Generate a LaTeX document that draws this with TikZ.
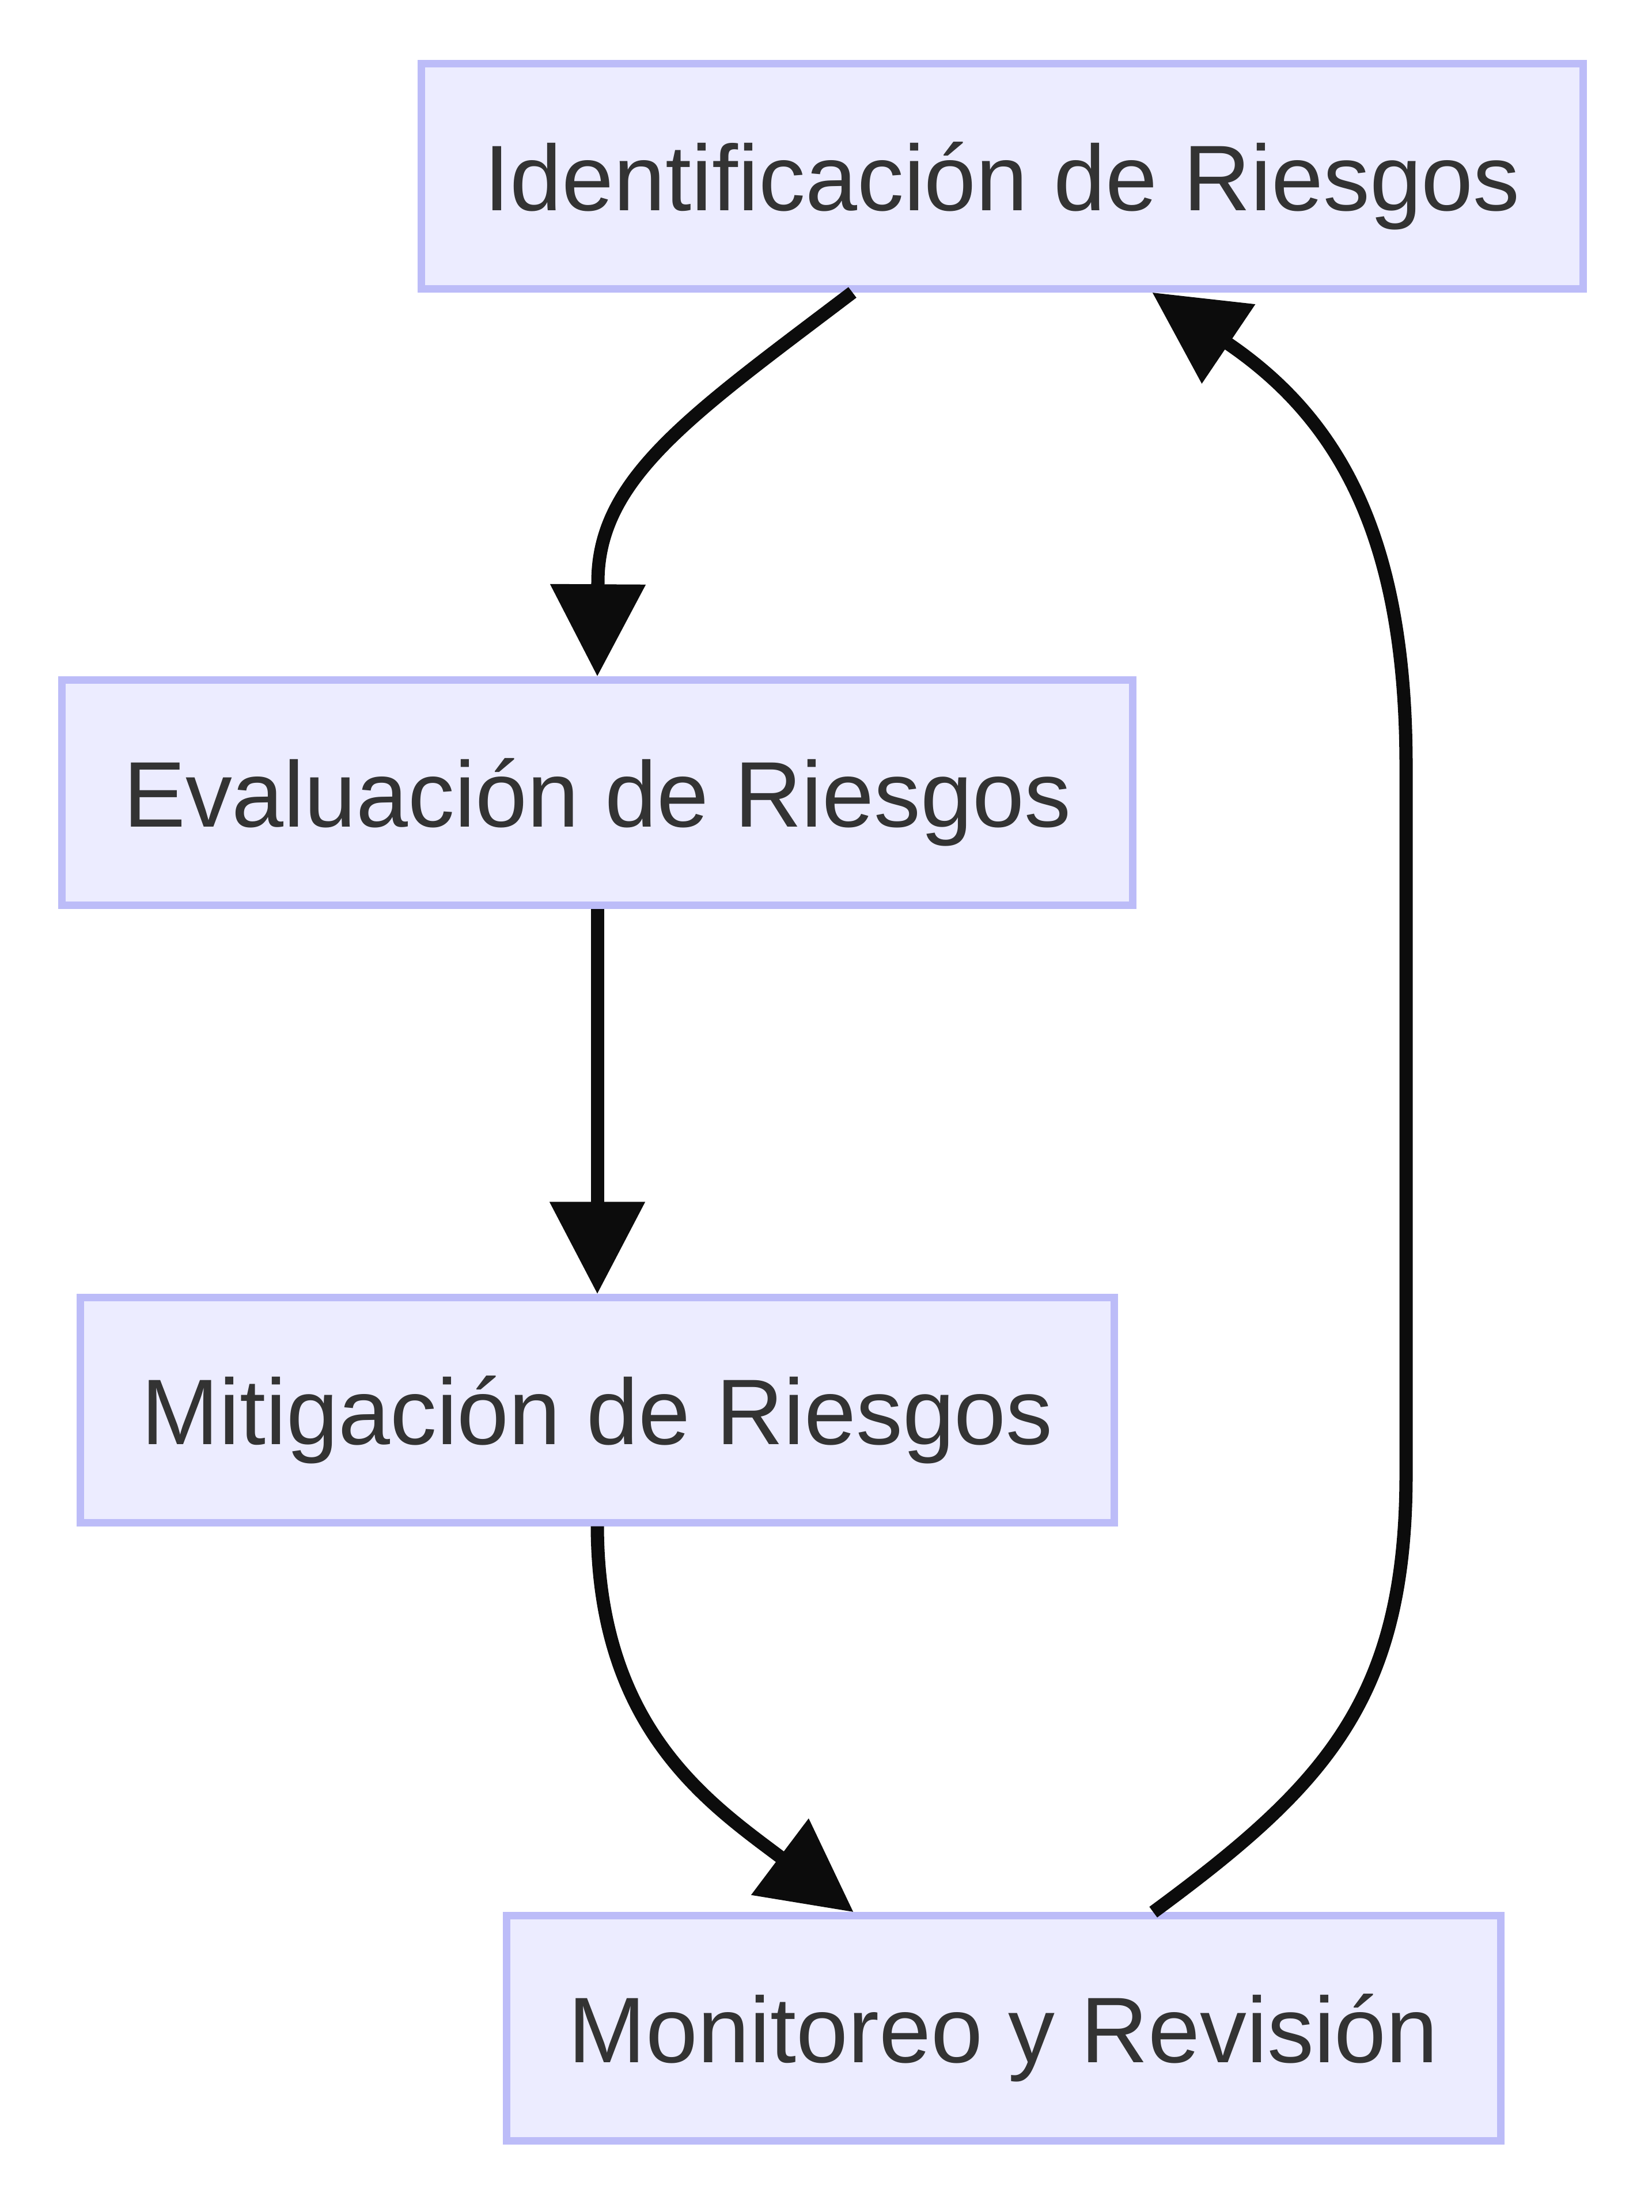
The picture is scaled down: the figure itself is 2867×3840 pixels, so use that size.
\documentclass[tikz,border=0pt]{standalone}
\usepackage{fontspec}
\setmainfont{Liberation Sans}
\usepackage{xcolor}
\usetikzlibrary{arrows.meta}

\definecolor{boxfill}{HTML}{ECECFF}
\definecolor{boxline}{RGB}{188,188,248}
\definecolor{boxtext}{HTML}{333333}
\definecolor{arrowcol}{HTML}{0C0C0C}

\tikzset{
    riskbox/.style={draw=boxline, fill=boxfill, line width=0.13cm, text=boxtext,
        font=\fontsize{46}{55}\selectfont, minimum height=3.9cm, text depth=0pt, inner sep=0pt},
    flow/.style={draw=arrowcol, line width=0.23cm, -{Triangle[length=1.6cm,width=1.6cm]}}
}

\begin{document}
\begin{tikzpicture}[x=0.01cm, y=-0.01cm]
                \useasboundingbox (0,0) rectangle (2867,3840);
                \node[riskbox, minimum width=20.16cm] (ident) at (1740,306) {Identificación de Riesgos};
                \node[riskbox, minimum width=18.57cm] (eval) at (1037,1376) {Evaluación de Riesgos};
                \node[riskbox, minimum width=17.93cm] (mitig) at (1037,2448) {Mitigación de Riesgos};
                \node[riskbox, minimum width=17.25cm] (monit) at (1742,3521) {Monitoreo y Revisión};
                \draw[flow] ([xshift=-2.6cm]ident.south) .. controls (1200,720) and (1038,830) .. (1038,1010) -- (eval.north);
                \draw[flow] (eval.south) -- (mitig.north);
                \draw[flow] (mitig.south) .. controls (1038,3000) and (1230,3130) .. ([xshift=-2.6cm]monit.north);
                \draw[flow] ([xshift=2.6cm]monit.north) .. controls (2300,3100) and (2441,2950) .. (2441,2560)
                    -- (2441,1330) .. controls (2441,940) and (2330,730) .. ([xshift=2.6cm]ident.south);
            \end{tikzpicture}
\end{document}
